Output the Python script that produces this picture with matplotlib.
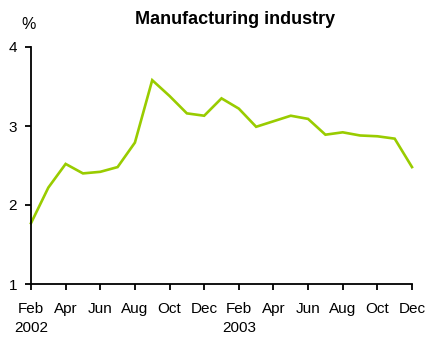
import matplotlib
matplotlib.use("Agg")
import matplotlib.pyplot as plt

plt.rcParams['font.family'] = ['Liberation Sans', 'DejaVu Sans']

months = ["Feb 2002", "Mar 2002", "Apr 2002", "May 2002", "Jun 2002", "Jul 2002",
          "Aug 2002", "Sep 2002", "Oct 2002", "Nov 2002", "Dec 2002", "Jan 2003",
          "Feb 2003", "Mar 2003", "Apr 2003", "May 2003", "Jun 2003", "Jul 2003",
          "Aug 2003", "Sep 2003", "Oct 2003", "Nov 2003", "Dec 2003"]
values = [1.77, 2.22, 2.52, 2.40, 2.42, 2.48, 2.79, 3.58, 3.38, 3.16, 3.13, 3.35,
          3.22, 2.99, 3.06, 3.13, 3.09, 2.89, 2.92, 2.88, 2.87, 2.84, 2.48]
tick_labels = ["Feb\n2002", "Apr", "Jun", "Aug", "Oct", "Dec",
               "Feb\n2003", "Apr", "Jun", "Aug", "Oct", "Dec"]
yticks = [1, 2, 3, 4]

fig = plt.figure(figsize=(4.27, 3.38), dpi=100)
ax = fig.add_axes([31/427, 1-284/338, (412-31)/427, (284-47)/338])

x = list(range(len(months)))
ax.plot(x, values, color="#99CC00", lw=1.9, solid_joinstyle='miter', clip_on=False)

ax.set_xlim(0, len(months)-1)
ax.set_ylim(1, 4)
ax.set_yticks(yticks)
ax.set_yticklabels([str(v) for v in yticks])
ax.set_xticks(x[::2])
ax.set_xticklabels(tick_labels, linespacing=1.42)

for s in ["top", "right"]:
    ax.spines[s].set_visible(False)
for s in ["left", "bottom"]:
    ax.spines[s].set_linewidth(1.3)
ax.tick_params(axis='both', direction='out', length=4, width=1.3, labelsize=11, colors='black')
ax.tick_params(axis='x', pad=9)
ax.tick_params(axis='y', pad=6)

fig.text(235.5/427, 1-24/338, "Manufacturing industry", ha='center', va='baseline',
         fontsize=13, fontweight='bold')
fig.text(28.5/427, 1-29/338, "%", ha='center', va='baseline', fontsize=11.5)

fig.savefig("out.png", dpi=100)
